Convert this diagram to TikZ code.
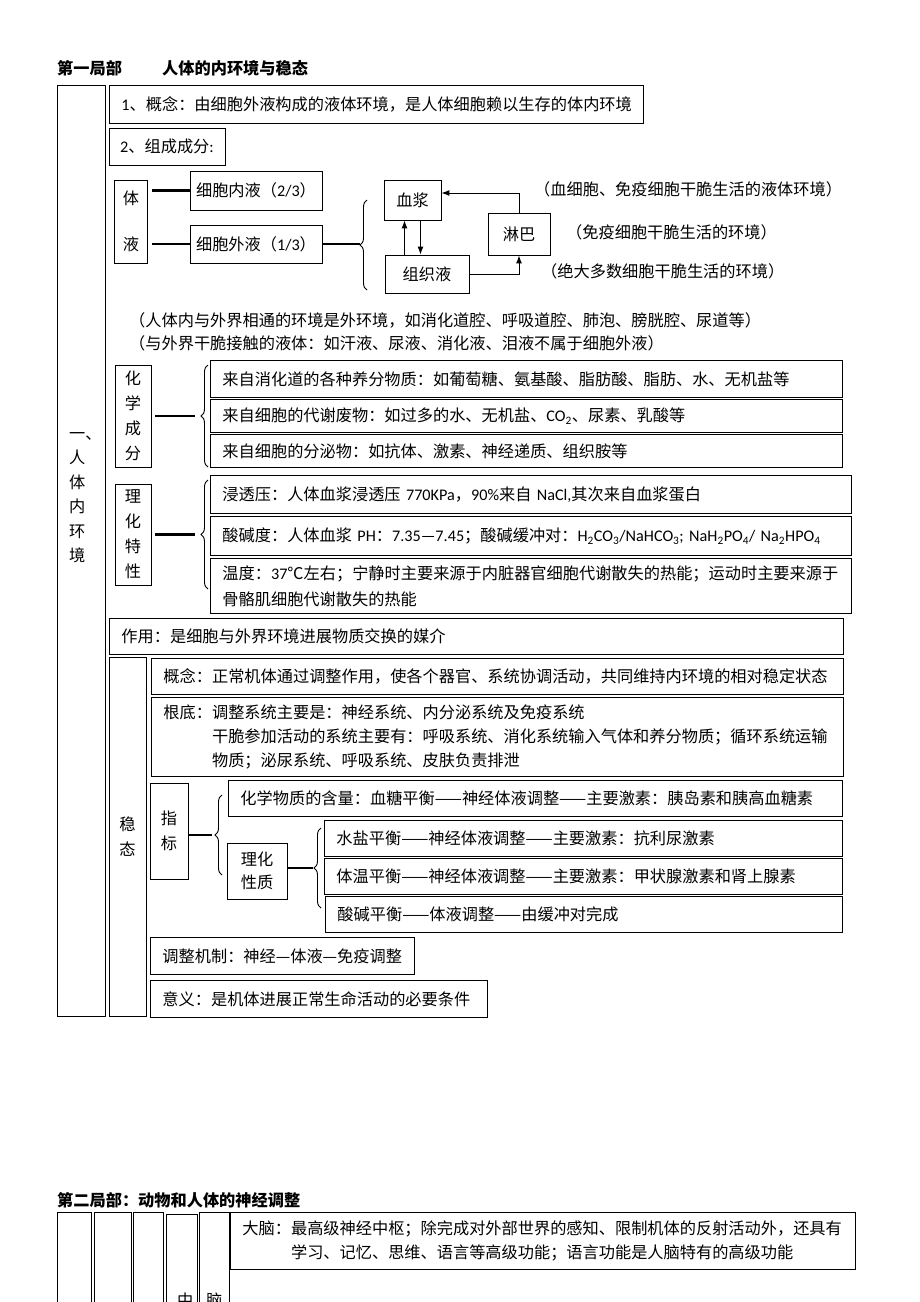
\documentclass[tikz,border=0pt]{standalone}
\usepackage{fontspec}
\setmainfont{Noto Sans CJK SC}
\newfontfamily\latinfont{Carlito}
\newcommand{\mylat}[1]{{\latinfont #1}}
\usetikzlibrary{calc,positioning,arrows.meta,decorations.pathreplacing}

\begin{document}
\begin{tikzpicture}[x=1pt, y=-1pt, font=\fontsize{16.2}{24}\selectfont,
  lbl/.style={inner sep=0pt, anchor=west},
  tbox/.style={draw, line width=0.9pt, anchor=north west, inner xsep=12pt, inner ysep=0pt, align=left},
  vbox/.style={draw, line width=0.9pt, inner sep=0pt, align=center},
  link/.style={line width=2.4pt},
  arr/.style={line width=1pt, -{Latex[length=8pt,width=6pt]}},
  brc/.style={decorate, decoration={brace, amplitude=7pt}, line width=0.9pt}]
\tikzstyle{vtext}=[font=\fontsize{16.2}{25}\selectfont]
\tikzstyle{head}=[lbl, font=\fontsize{16.2}{24}\selectfont\bfseries]
\useasboundingbox (0,0) rectangle (920,1302);
\clip (0,0) rectangle (920,1302);

\node[head] (part1) at (57,68) {第一局部};
\node[head] (title1) at (162,68) {人体的内环境与稳态};
\node[vbox, minimum width=48pt, minimum height=931pt] (neihuanjing) at (81,550.5) {};
\node[lbl, anchor=north west, align=left, font=\fontsize{16.2}{24.5}\selectfont] (nhjtext) at (69,432) {一、\\人\\体\\内\\环\\境};

\node[tbox, text width=510pt, minimum height=38pt] (gainian) at (109,85) {\mylat{1}、概念：由细胞外液构成的液体环境，是人体细胞赖以生存的体内环境};
\node[vbox, minimum width=116pt, minimum height=37pt] (zucheng) at (167,146.5) {\mylat{2}、组成成分\mylat{:}};

\node[vbox, minimum width=33pt, minimum height=83pt] (tiye) at (131,221.5) {体\\[22pt]液};
\node[vbox, minimum width=132pt, minimum height=39pt] (neiye) at (256,190.5) {细胞内液（\mylat{2/3}）};
\node[vbox, minimum width=132pt, minimum height=38pt] (waiye) at (256,244) {细胞外液（\mylat{1/3}）};
\node[vbox, minimum width=57pt, minimum height=40pt] (xuejiang) at (412.5,200) {血浆};
\node[vbox, minimum width=84pt, minimum height=38pt] (zuzhiye) at (427,274) {组织液};
\node[vbox, minimum width=62pt, minimum height=42pt] (linba) at (519,234) {淋巴};

\node[lbl] (note1) at (534,189) {（血细胞、免疫细胞干脆生活的液体环境）};
\node[lbl] (note2) at (566,232) {（免疫细胞干脆生活的环境）};
\node[lbl] (note3) at (541,271) {（绝大多数细胞干脆生活的环境）};
\node[lbl] (note4) at (129,320) {（人体内与外界相通的环境是外环境，如消化道腔、呼吸道腔、肺泡、膀胱腔、尿道等）};
\node[lbl] (note5) at (129,343) {（与外界干脆接触的液体：如汗液、尿液、消化液、泪液不属于细胞外液）};

\node[vbox, vtext, minimum width=36pt, minimum height=102pt] (huaxue) at (133,416) {化\\学\\成\\分};
\node[tbox, text width=608pt, minimum height=37pt] (yangfen) at (210,360) {来自消化道的各种养分物质：如葡萄糖、氨基酸、脂肪酸、脂肪、水、无机盐等};
\node[tbox, text width=608pt, minimum height=33pt] (feiwu) at (210,399) {来自细胞的代谢废物：如过多的水、无机盐、\mylat{CO\textsubscript{2}}、尿素、乳酸等};
\node[tbox, text width=608pt, minimum height=33pt] (fenmi) at (210,434) {来自细胞的分泌物：如抗体、激素、神经递质、组织胺等};

\node[vbox, vtext, minimum width=36pt, minimum height=101pt] (lihua) at (133,534.5) {理\\化\\特\\性};
\node[tbox, text width=617pt, minimum height=38pt] (shentou) at (210,475) {浸透压：人体血浆浸透压 \mylat{770KPa}，\mylat{90\%}来自 \mylat{NaCl,}其次来自血浆蛋白};
\node[tbox, text width=617pt, minimum height=39pt] (suanjiandu) at (210,516) {酸碱度：人体血浆 \mylat{PH}：\mylat{7.35—7.45}；酸碱缓冲对：\mylat{H\textsubscript{2}CO\textsubscript{3}/NaHCO\textsubscript{3}; NaH\textsubscript{2}PO\textsubscript{4}/ Na\textsubscript{2}HPO\textsubscript{4}}};
\node[tbox, text width=617pt, minimum height=55pt, font=\fontsize{16.2}{26}\selectfont] (wendu) at (210,558) {温度：\mylat{37}℃左右；宁静时主要来源于内脏器官细胞代谢散失的热能；运动时主要来源于\\骨骼肌细胞代谢散失的热能};

\node[tbox, text width=710pt, minimum height=36pt] (zuoyong) at (109,618) {作用：是细胞与外界环境进展物质交换的媒介};

\node[vbox, vtext, minimum width=37pt, minimum height=359pt] (wentai) at (127.5,836.5) {稳\\态};
\node[tbox, text width=668pt, minimum height=36pt] (gainian2) at (151,658) {概念：正常机体通过调整作用，使各个器官、系统协调活动，共同维持内环境的相对稳定状态};
\node[tbox, text width=668pt, minimum height=79pt] (gendi) at (151,697) {根底：调整系统主要是：神经系统、内分泌系统及免疫系统\\\phantom{根底：}干脆参加活动的系统主要有：呼吸系统、消化系统输入气体和养分物质；循环系统运输\\\phantom{根底：}物质；泌尿系统、呼吸系统、皮肤负责排泄};
\node[vbox, vtext, minimum width=38pt, minimum height=96pt] (zhibiao) at (169,831) {指\\标};
\node[tbox, text width=590pt, minimum height=36pt] (xuetang) at (228,780) {化学物质的含量：血糖平衡——神经体液调整——主要激素：胰岛素和胰高血糖素};
\node[vbox, font=\fontsize{16.2}{23}\selectfont, minimum width=60pt, minimum height=56pt] (lhxz) at (257,871) {理化\\性质};
\node[tbox, text width=494pt, minimum height=36pt] (shuiyan) at (324,820) {水盐平衡——神经体液调整——主要激素：抗利尿激素};
\node[tbox, text width=494pt, minimum height=36pt] (tiwen) at (324,858) {体温平衡——神经体液调整——主要激素：甲状腺激素和肾上腺素};
\node[tbox, text width=493pt, minimum height=36pt] (suanjian) at (325,896) {酸碱平衡——体液调整——由缓冲对完成};
\node[tbox, text width=240pt, minimum height=37pt] (jizhi) at (150,937) {调整机制：神经—体液—免疫调整};
\node[tbox, text width=313pt, minimum height=37pt] (yiyi) at (150,980) {意义：是机体进展正常生命活动的必要条件};

\coordinate (tip1) at (360,244);
\coordinate (tip2) at (201,416);
\coordinate (tip3) at (201,534.5);
\coordinate (tip4) at (215,835);
\coordinate (tip5) at (314,868);
\foreach \x/\t/\b in {367/200/290, 208/365/467, 208/480/589, 222/795/875, 321/828/908}{\draw[brc] (\x,\b) -- (\x,\t);}

\draw[link, shorten <=4pt] (tiye.east |- neiye.west) -- (neiye.west);
\draw[link, shorten <=4pt] (tiye.east |- waiye.west) -- (waiye.west);
\draw[link] (waiye.east) -- (tip1);
\draw[link, shorten <=4pt, shorten >=6pt] (huaxue.east |- tip2) -- (tip2);
\draw[link, shorten <=4pt, shorten >=6pt] (lihua.east |- tip3) -- (tip3);
\draw[link, shorten >=3pt] (zhibiao.east |- tip4) -- (tip4);
\draw[link, shorten >=1pt] (lhxz.east |- tip5) -- (tip5);

\draw[arr] ([xshift=-8pt]xuejiang.south |- zuzhiye.north) -- ([xshift=-8pt]xuejiang.south);
\draw[arr] ([xshift=8pt]xuejiang.south) -- ([xshift=8pt]xuejiang.south |- zuzhiye.north);
\draw[arr] (zuzhiye.east) -| (linba.south);
\draw[arr] (linba.north) |- ([yshift=7pt]xuejiang.east);

\node[head] (part2) at (57,1200) {第二局部：动物和人体的神经调整};
\node[vbox, anchor=north west, minimum width=34pt, minimum height=130pt] (col1) at (57,1212) {};
\node[vbox, anchor=north west, minimum width=37pt, minimum height=130pt] (col2) at (94,1212) {};
\node[vbox, anchor=north west, minimum width=30pt, minimum height=130pt] (col3) at (133,1212) {};
\node[vbox, anchor=north west, minimum width=31pt, minimum height=130pt] (col4) at (166,1214) {};
\node[vbox, anchor=north west, minimum width=30pt, minimum height=130pt] (col5) at (199,1212) {};
\node[lbl] (zhong) at (177,1300) {中};
\node[lbl] (nao) at (206,1300) {脑};
\node[tbox, text width=601pt, minimum height=57pt] (danao) at (230,1212) {大脑：最高级神经中枢；除完成对外部世界的感知、限制机体的反射活动外，还具有\\\phantom{大脑：}学习、记忆、思维、语言等高级功能；语言功能是人脑特有的高级功能};
\end{tikzpicture}
\end{document}
